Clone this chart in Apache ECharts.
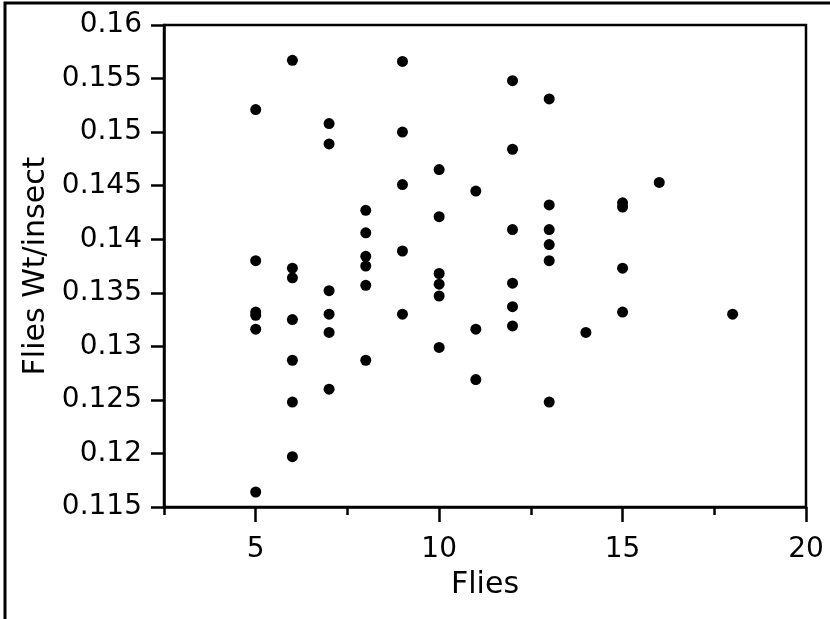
<!DOCTYPE html>
<html>
<head>
<meta charset="utf-8">
<script src="https://cdn.jsdelivr.net/npm/echarts@6/dist/echarts.min.js"></script>
<style>
  html, body { margin: 0; padding: 0; background: #fff; }
  #chart { width: 830px; height: 619px; }
</style>
</head>
<body>
<div id="chart"></div>
<script>
// number of flies per sample (x) and weight per insect (y)
const flies = [
  5, 5, 5, 5, 5, 5,
  6, 6, 6, 6, 6, 6, 6,
  7, 7, 7, 7, 7, 7,
  8, 8, 8, 8, 8, 8,
  9, 9, 9, 9, 9,
  10, 10, 10, 10, 10, 10,
  11, 11, 11,
  12, 12, 12, 12, 12, 12,
  13, 13, 13, 13, 13, 13,
  14,
  15, 15, 15, 15,
  16,
  18
];
const wtPerInsect = [
  0.1521, 0.1380, 0.1332, 0.1329, 0.1316, 0.1164,
  0.1567, 0.1373, 0.1364, 0.1325, 0.1287, 0.1248, 0.1197,
  0.1508, 0.1489, 0.1352, 0.1330, 0.1313, 0.1260,
  0.1427, 0.1406, 0.1384, 0.1375, 0.1357, 0.1287,
  0.1566, 0.1500, 0.1451, 0.1389, 0.1330,
  0.1465, 0.1421, 0.1368, 0.1358, 0.1347, 0.1299,
  0.1445, 0.1316, 0.1269,
  0.1548, 0.1484, 0.1409, 0.1359, 0.1337, 0.1319,
  0.1531, 0.1432, 0.1409, 0.1395, 0.1380, 0.1248,
  0.1313,
  0.1434, 0.1430, 0.1373, 0.1332,
  0.1453,
  0.1330
];
const xMajorTicks = [5, 10, 15, 20];
const xMinorTicks = [2.5, 7.5, 12.5, 17.5];

const points = flies.map((f, i) => [f, wtPerInsect[i]]);

const font = 'DejaVu Sans';
const chart = echarts.init(document.getElementById('chart'));

chart.setOption({
  animation: false,
  grid: {
    left: 164, right: 24, top: 25, bottom: 112,
    show: true, borderColor: '#000', borderWidth: 2.5
  },
  graphic: [{
    type: 'polyline',
    shape: { points: [[5, 619], [5, 3], [830, 3]] },
    style: { stroke: '#000', lineWidth: 3, fill: null }
  }],
  xAxis: [{
    type: 'value',
    min: 2.5, max: 20,
    name: 'Flies',
    nameLocation: 'middle',
    nameGap: 63,
    nameTextStyle: { color: '#000', fontFamily: font, fontSize: 30 },
    axisLine: { lineStyle: { color: '#000', width: 2.5 } },
    axisTick: { customValues: xMajorTicks, length: 15, lineStyle: { color: '#000', width: 2.5 } },
    axisLabel: { customValues: xMajorTicks, color: '#000', fontFamily: font, fontSize: 28, margin: 29 },
    splitLine: { show: false }
  }, {
    type: 'value',
    min: 2.5, max: 20,
    position: 'bottom',
    axisLine: { show: false },
    axisTick: { customValues: xMinorTicks, length: 8, lineStyle: { color: '#000', width: 2.5 } },
    axisLabel: { show: false },
    splitLine: { show: false }
  }],
  yAxis: {
    type: 'value',
    min: 0.115, max: 0.16, interval: 0.005,
    name: 'Flies Wt/insect',
    nameLocation: 'middle',
    nameGap: 105,
    nameTextStyle: { color: '#000', fontFamily: font, fontSize: 30 },
    axisLine: { show: true, lineStyle: { color: '#000', width: 2.5 } },
    axisTick: { show: true, length: 13, lineStyle: { color: '#000', width: 2.5 } },
    axisLabel: { color: '#000', fontFamily: font, fontSize: 28, margin: 22 },
    splitLine: { show: false }
  },
  series: [{
    type: 'scatter',
    data: points,
    symbolSize: 11,
    itemStyle: { color: '#000', opacity: 1 }
  }]
});
</script>
</body>
</html>
